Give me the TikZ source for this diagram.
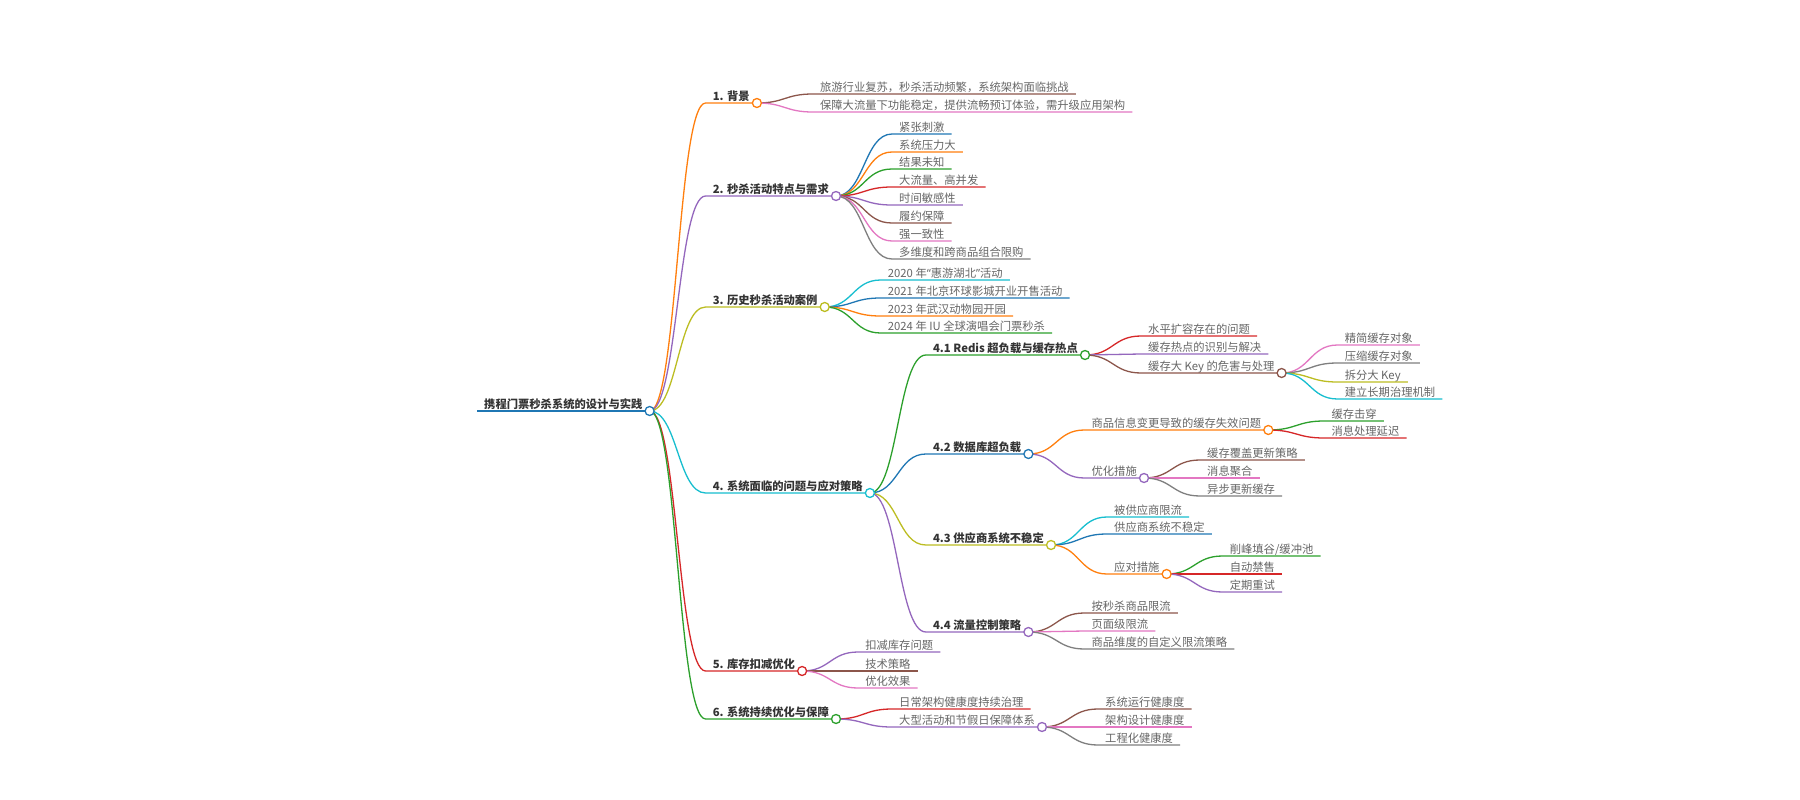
\documentclass[tikz,border=0pt]{standalone}
\usepackage{fontspec}
\setmainfont{Noto Sans CJK SC}
\newfontfamily\qfont{Noto Sans}
\usetikzlibrary{calc}
\definecolor{cBlue}{HTML}{1F77B4}
\definecolor{cOrange}{HTML}{FF7F0E}
\definecolor{cGreen}{HTML}{2CA02C}
\definecolor{cRed}{HTML}{D62728}
\definecolor{cPurple}{HTML}{9467BD}
\definecolor{cBrown}{HTML}{8C564B}
\definecolor{cPink}{HTML}{E377C2}
\definecolor{cGray}{HTML}{7F7F7F}
\definecolor{cOlive}{HTML}{BCBD22}
\definecolor{cCyan}{HTML}{17BECF}
\definecolor{leafgray}{HTML}{666666}
\definecolor{headgray}{HTML}{333333}
% #1 parent, #2 name, #3 line y, #4 colour, #5 style, #6 text
\newcommand\mmkid[6]{%
  \node[#5] (#2) at ($(#1.south east |- 0,#3)+(56,0)$) {#6};
  \draw[ln,#4] (#1.south east) .. controls ($(#1.south east)+(28,0)$) and ($(#2.south west)+(-28,0)$) .. (#2.south west) -- (#2.south east);
}
\newcommand\mmknot[2]{\draw[knot,draw=#1] (#2.south east) circle[radius=4.5];}
\begin{document}
\begin{tikzpicture}[x=1pt,y=-1pt,
  base/.style={anchor=south west, inner xsep=7pt, inner ysep=1pt, text height=9pt, text depth=1.5pt},
  leaf/.style={base, text=leafgray, font=\fontsize{11.3}{13}\selectfont},
  head/.style={base, text=headgray, font=\fontsize{11.3}{13}\selectfont\bfseries},
  ln/.style={line width=1.3pt},
  knot/.style={fill=white, line width=1.3pt},
]
\fill[white] (0,0) rectangle (1800,800);
\useasboundingbox (0,0) rectangle (1800,800);

\node[head] (root) at (477,411) {携程门票秒杀系统的设计与实践};
\draw[line width=2pt,cBlue] (root.south west) -- (root.south east);

% level 1
\mmkid{root}{n1}{103}{cOrange}{head}{1. 背景}
\mmkid{root}{n2}{196}{cPurple}{head}{2. 秒杀活动特点与需求}
\mmkid{root}{n3}{307}{cOlive}{head}{3. 历史秒杀活动案例}
\mmkid{root}{n4}{493}{cCyan}{head}{4. 系统面临的问题与应对策略}
\mmkid{root}{n5}{671}{cRed}{head}{5. 库存扣减优化}
\mmkid{root}{n6}{719}{cGreen}{head}{6. 系统持续优化与保障}

% 1
\mmkid{n1}{n11}{94}{cBrown}{leaf}{旅游行业复苏，秒杀活动频繁，系统架构面临挑战}
\mmkid{n1}{n12}{112}{cPink}{leaf}{保障大流量下功能稳定，提供流畅预订体验，需升级应用架构}

% 2
\mmkid{n2}{n21}{134}{cBlue}{leaf}{紧张刺激}
\mmkid{n2}{n22}{152}{cOrange}{leaf}{系统压力大}
\mmkid{n2}{n23}{169}{cGreen}{leaf}{结果未知}
\mmkid{n2}{n24}{187}{cRed}{leaf}{大流量、高并发}
\mmkid{n2}{n25}{205}{cPurple}{leaf}{时间敏感性}
\mmkid{n2}{n26}{223}{cBrown}{leaf}{履约保障}
\mmkid{n2}{n27}{241}{cPink}{leaf}{强一致性}
\mmkid{n2}{n28}{259}{cGray}{leaf}{多维度和跨商品组合限购}

% 3
\mmkid{n3}{n31}{280}{cCyan}{leaf}{2020 年{\qfont “}惠游湖北{\qfont ”}活动}
\mmkid{n3}{n32}{298}{cBlue}{leaf}{2021 年北京环球影城开业开售活动}
\mmkid{n3}{n33}{316}{cOrange}{leaf}{2023 年武汉动物园开园}
\mmkid{n3}{n34}{333}{cGreen}{leaf}{2024 年 IU 全球演唱会门票秒杀}

% 4
\mmkid{n4}{n41}{355}{cGreen}{head}{4.1 Redis 超负载与缓存热点}
\mmkid{n4}{n42}{454}{cBlue}{head}{4.2 数据库超负载}
\mmkid{n4}{n43}{545}{cOlive}{head}{4.3 供应商系统不稳定}
\mmkid{n4}{n44}{632}{cPurple}{head}{4.4 流量控制策略}

\mmkid{n41}{n411}{336}{cRed}{leaf}{水平扩容存在的问题}
\mmkid{n41}{n412}{354}{cPurple}{leaf}{缓存热点的识别与解决}
\mmkid{n41}{n413}{373}{cBrown}{leaf}{缓存大 Key 的危害与处理}
\mmkid{n413}{n4131}{345}{cPink}{leaf}{精简缓存对象}
\mmkid{n413}{n4132}{363}{cGray}{leaf}{压缩缓存对象}
\mmkid{n413}{n4133}{382}{cOlive}{leaf}{拆分大 Key}
\mmkid{n413}{n4134}{399}{cCyan}{leaf}{建立长期治理机制}

\mmkid{n42}{n421}{430}{cOrange}{leaf}{商品信息变更导致的缓存失效问题}
\mmkid{n42}{n422}{478}{cPurple}{leaf}{优化措施}
\mmkid{n421}{n4211}{421}{cGreen}{leaf}{缓存击穿}
\mmkid{n421}{n4212}{438}{cRed}{leaf}{消息处理延迟}
\mmkid{n422}{n4221}{460}{cBrown}{leaf}{缓存覆盖更新策略}
\mmkid{n422}{n4222}{478}{cPink}{leaf}{消息聚合}
\mmkid{n422}{n4223}{496}{cGray}{leaf}{异步更新缓存}

\mmkid{n43}{n431}{517}{cCyan}{leaf}{被供应商限流}
\mmkid{n43}{n432}{534}{cBlue}{leaf}{供应商系统不稳定}
\mmkid{n43}{n433}{574}{cOrange}{leaf}{应对措施}
\mmkid{n433}{n4331}{556}{cGreen}{leaf}{削峰填谷/缓冲池}
\mmkid{n433}{n4332}{574}{cRed}{leaf}{自动禁售}
\mmkid{n433}{n4333}{592}{cPurple}{leaf}{定期重试}

\mmkid{n44}{n441}{613}{cBrown}{leaf}{按秒杀商品限流}
\mmkid{n44}{n442}{631}{cPink}{leaf}{页面级限流}
\mmkid{n44}{n443}{649}{cGray}{leaf}{商品维度的自定义限流策略}

% 5
\mmkid{n5}{n51}{652}{cPurple}{leaf}{扣减库存问题}
\mmkid{n5}{n52}{671}{cBrown}{leaf}{技术策略}
\mmkid{n5}{n53}{688}{cPink}{leaf}{优化效果}

% 6
\mmkid{n6}{n61}{709}{cRed}{leaf}{日常架构健康度持续治理}
\mmkid{n6}{n62}{727}{cPurple}{leaf}{大型活动和节假日保障体系}
\mmkid{n62}{n621}{709}{cBrown}{leaf}{系统运行健康度}
\mmkid{n62}{n622}{727}{cPink}{leaf}{架构设计健康度}
\mmkid{n62}{n623}{745}{cGray}{leaf}{工程化健康度}

% knots
\mmknot{cBlue}{root}
\mmknot{cOrange}{n1}
\mmknot{cPurple}{n2}
\mmknot{cOlive}{n3}
\mmknot{cCyan}{n4}
\mmknot{cRed}{n5}
\mmknot{cGreen}{n6}
\mmknot{cGreen}{n41}
\mmknot{cBlue}{n42}
\mmknot{cOlive}{n43}
\mmknot{cPurple}{n44}
\mmknot{cBrown}{n413}
\mmknot{cOrange}{n421}
\mmknot{cPurple}{n422}
\mmknot{cOrange}{n433}
\mmknot{cPurple}{n62}
\end{tikzpicture}
\end{document}
